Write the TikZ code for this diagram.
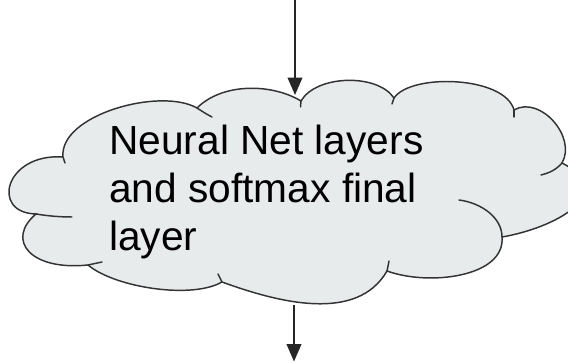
\documentclass[tikz,border=0pt]{standalone}
\usepackage{fontspec}
\setmainfont{Liberation Sans}
\usetikzlibrary{arrows.meta}
\definecolor{cloudfill}{RGB}{232,235,236}
\definecolor{cloudedge}{RGB}{51,51,51}

\begin{document}
\begin{tikzpicture}[
    x=0.75pt, y=0.75pt,
    edge/.style={draw=cloudedge, line width=1.1pt},
    tail/.style={edge, line cap=round},
    arr/.style={-{Triangle[length=13pt, width=11pt]}, line width=1.1pt, draw=black!85, fill=black!85},
    lbl/.style={anchor=base west, align=left, inner sep=0pt, font=\fontsize{30.5}{36}\selectfont}
  ]
  \useasboundingbox (0,0) rectangle (568,363);
  \clip (0,0) rectangle (568,363);
  % cloud outline, clockwise from the left
  \path[edge, fill=cloudfill] (63,206)
    .. controls (59,248) and (160,276) .. (197,255)
    .. controls (222,280) and (271,280) .. (301,262)
    .. controls (316,288) and (377,290) .. (394,265)
    .. controls (411,290) and (505,287) .. (514,253)
    .. controls (540,268) and (577,226) .. (562,200)
    .. controls (620,170) and (555,135) .. (502,126)
    .. controls (505.5,86.2) and (429.3,76.6) .. (387,92)
    .. controls (357,40) and (278.4,60.5) .. (222,81)
    .. controls (191.7,63.5) and (114.8,75.5) .. (88,98)
    .. controls (30,92) and (5.4,123.3) .. (36,149)
    .. controls (-10,150) and (5,210) .. (63,206) -- cycle;
  % short inner strokes where the bumps overlap
  \draw[tail] (63,206) -- (65,200);
  \draw[tail] (197,255) .. controls (203,251) and (208,248) .. (212,246);
  \draw[tail] (301,262) -- (300.5,256);
  \draw[tail] (394,265) -- (392,259);
  \draw[tail] (514,253) -- (514,246);
  \draw[tail] (562,200) .. controls (556,193) and (549,190) .. (541,188);
  \draw[tail] (502,126) .. controls (502,145) and (482,160) .. (459,163);
  \draw[tail] (387,92) -- (389,102);
  \draw[tail] (222,81) -- (218,89);
  \draw[tail] (88,98) -- (102,101);
  \draw[tail] (36,149) .. controls (48,147) and (60,146) .. (72,146);

  \node[lbl] (layers) at (109,112) {Neural Net layers\\and softmax final\\layer};

  \coordinate (feed) at (295,363);
  \coordinate (cloudtop) at (295,268);
  \coordinate (cloudbot) at (294,58);
  \coordinate (result) at (294,1.5);
  \draw[arr] (feed) -- (cloudtop);
  \draw[arr] (cloudbot) -- (result);
\end{tikzpicture}
\end{document}
